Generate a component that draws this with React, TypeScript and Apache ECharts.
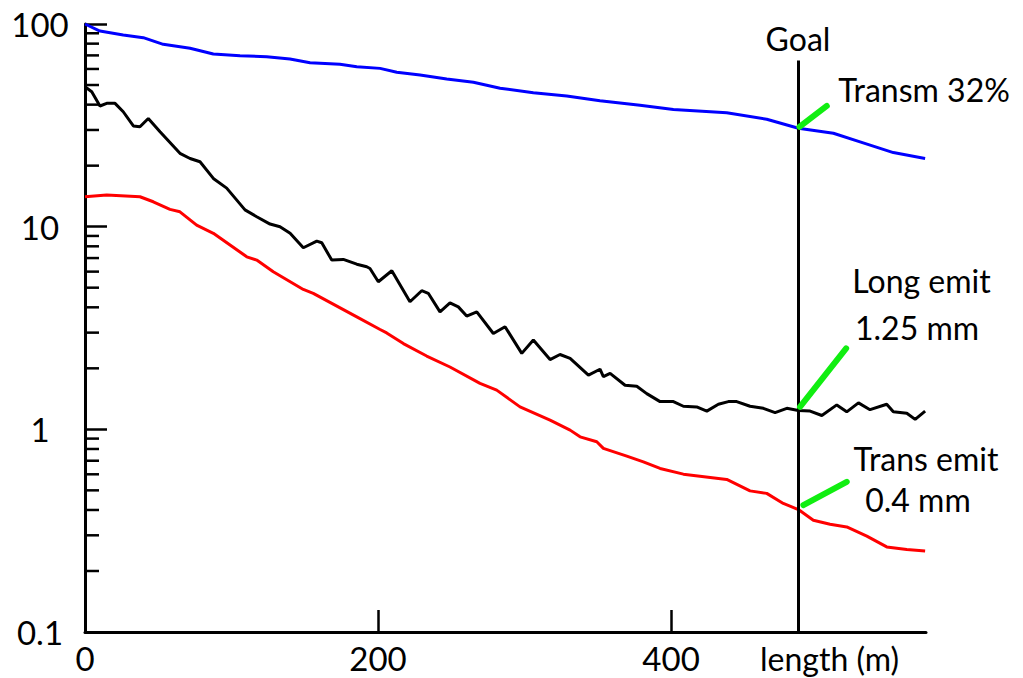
import React, { useEffect, useRef } from "react";
import * as echarts from "echarts";

// Transmission (%) vs length (m)
const transmLength = [0, 10.2, 26.1, 39.8, 53.4, 71.7, 87.6, 105.8, 124, 139.9, 153.6, 174, 185.5, 201.4, 212.8, 228.7, 246.9, 265.1, 283.3, 306, 328.8, 351.5, 378.8, 401.6, 438, 465.3, 486.9, 510.8, 529, 551.7, 573.4];
const transmPercent = [100, 92.3, 88.3, 85.6, 79.4, 75.9, 71.1, 69.7, 69.0, 67.2, 64.4, 63.3, 61.6, 60.4, 57.8, 56.0, 53.5, 51.6, 48.2, 45.8, 44.1, 41.8, 39.7, 37.9, 36.5, 33.9, 30.6, 28.9, 26.2, 23.2, 21.7];

// Longitudinal emittance vs length
const longEmitLength = [0, 4.6, 10.2, 14.8, 20.5, 26.1, 33, 37.5, 43.2, 51.2, 64.8, 71.7, 78.5, 87.6, 96.7, 109.2, 117.2, 126.3, 133.1, 140, 149, 158.2, 161.6, 168.4, 176.3, 185.5, 192.3, 194.5, 200.2, 209.4, 221.8, 229.8, 234.3, 242.3, 249.1, 254.8, 260.5, 267.4, 278.7, 286.7, 298.1, 306, 317.4, 324.2, 331.1, 343.6, 351.5, 353.8, 358.4, 368.6, 376.6, 383.4, 392.5, 401.6, 408.4, 417.5, 424.4, 432.3, 439.1, 444.8, 453.9, 463, 471, 479, 486.9, 494.9, 502.9, 513.1, 519.9, 527.9, 535.8, 547.2, 551.7, 560.9, 566.6, 573.4];
const longEmitValues = [49.0, 46.3, 39.4, 40.6, 40.6, 36.9, 31.4, 31.1, 34.2, 29.4, 23.0, 21.7, 20.9, 17.3, 15.5, 12.1, 11.2, 10.3, 9.99, 9.27, 7.87, 8.49, 8.33, 6.84, 6.89, 6.53, 6.34, 6.22, 5.35, 6.06, 4.26, 4.83, 4.69, 3.80, 4.21, 4.02, 3.62, 3.80, 2.97, 3.21, 2.37, 2.76, 2.21, 2.34, 2.24, 1.85, 1.98, 1.82, 1.89, 1.65, 1.63, 1.50, 1.37, 1.37, 1.30, 1.29, 1.23, 1.33, 1.37, 1.37, 1.30, 1.27, 1.21, 1.27, 1.24, 1.23, 1.17, 1.32, 1.22, 1.35, 1.25, 1.33, 1.22, 1.20, 1.12, 1.23];

// Transverse emittance vs length
const transEmitLength = [0, 14.8, 37.5, 46.6, 58, 64.8, 76.2, 87.6, 110.4, 117.2, 128.5, 149, 155.8, 185.5, 201.4, 205.9, 217.3, 233.2, 249.1, 269.6, 281, 296.9, 317.4, 331.1, 337.9, 349.3, 353.8, 369.8, 381.1, 392.5, 408.4, 438, 453.9, 465.3, 476.6, 486.9, 497.1, 508.5, 519.9, 533.6, 547.2, 560.9, 573.4];
const transEmitValues = [14.05, 14.32, 14.05, 13.27, 12.17, 11.84, 10.18, 9.27, 7.10, 6.84, 5.99, 4.90, 4.69, 3.59, 3.11, 2.99, 2.65, 2.30, 2.03, 1.685, 1.561, 1.291, 1.110, 0.991, 0.918, 0.868, 0.805, 0.737, 0.691, 0.641, 0.601, 0.566, 0.497, 0.483, 0.431, 0.402, 0.356, 0.340, 0.330, 0.297, 0.263, 0.255, 0.251];

// Axis ticks
const xLabelValues = [0, 200, 400];
const xTickValues = [200, 400];
const yMinorTicks = [0.2, 0.3, 0.4, 0.5, 0.6, 0.7, 0.8, 0.9, 2, 3, 4, 5, 6, 7, 8, 9, 20, 30, 40, 50, 60, 70, 80, 90];

// Goal marker and annotation pointers ([length, value] endpoints)
const goalLength = 487;
const goalTop = 66;
const pointerTransm = [[487.6, 31.1], [506.3, 39.4]];
const pointerLong = [[488, 1.29], [519.5, 2.51]];
const pointerTrans = [[490.3, 0.4225], [519.9, 0.551]];

const zip = (xs: number[], ys: number[]) => xs.map((x, i) => [x, ys[i]]);

const FONT = "Lato, 'Open Sans', sans-serif";
const GREEN = "#11ee11";

export default function App() {
  const ref = useRef<HTMLDivElement>(null);

  useEffect(() => {
    if (!ref.current) return;
    const chart = echarts.init(ref.current, null, { renderer: "svg" });

    const pointer = (p: number[][]) => [
      { coord: p[0], lineStyle: { color: GREEN, width: 6, type: "solid", cap: "round" } },
      { coord: p[1] },
    ];

    const text = (t: string, x: number, y: number) => ({
      type: "text",
      x,
      y,
      silent: true,
      style: {
        text: t,
        fill: "#000",
        fontSize: 32,
        lineHeight: 30,
        fontFamily: FONT,
        align: "center",
        verticalAlign: "middle",
      },
    });

    const option: any = {
      animation: false,
      backgroundColor: "#ffffff",
      grid: { left: 85, top: 24, right: 97, bottom: 46, containLabel: false, outerBoundsMode: "none" },
      xAxis: {
        type: "value",
        min: 0,
        max: 574,
        interval: 200,
        axisLine: { show: true, onZero: false, lineStyle: { color: "#000", width: 3 } },
        axisTick: { show: true, inside: true, length: 22, customValues: xTickValues, lineStyle: { color: "#000", width: 2.5 } },
        axisLabel: { customValues: xLabelValues, color: "#000", fontSize: 33, fontFamily: FONT, margin: 9 },
        splitLine: { show: false },
      },
      yAxis: {
        type: "log",
        logBase: 10,
        min: 0.1,
        max: 100,
        axisLine: { show: true, onZero: false, lineStyle: { color: "#000", width: 3 } },
        axisTick: { show: true, inside: true, length: 22, lineStyle: { color: "#000", width: 2.5 } },
        axisLabel: { color: "#000", fontSize: 33, fontFamily: FONT, align: "center", margin: 45 },
        splitLine: { show: false },
        minorTick: { show: false },
      },
      graphic: [
        text("Goal", 798, 38),
        text("Transm 32%", 924, 89.5),
        text("Long emit", 921.5, 280),
        text("1.25 mm", 917, 327),
        text("Trans emit", 926, 458),
        text("0.4 mm", 918, 499),
        text("length (m)", 829.5, 658),
      ],
      series: [
        {
          type: "custom",
          name: "minorTicks",
          silent: true,
          data: yMinorTicks.map((v) => [0, v]),
          renderItem: (params: any, api: any) => {
            const p = api.coord([0, api.value(1)]);
            return {
              type: "line",
              shape: { x1: p[0], y1: p[1], x2: p[0] + 14, y2: p[1] },
              style: { stroke: "#000", lineWidth: 2.5 },
            };
          },
          z: 5,
        },
        {
          type: "line",
          name: "Transmission",
          data: zip(transmLength, transmPercent),
          showSymbol: false,
          lineStyle: { color: "#0000ff", width: 3 },
          itemStyle: { color: "#0000ff" },
          z: 3,
        },
        {
          type: "line",
          name: "Long emit",
          data: zip(longEmitLength, longEmitValues),
          showSymbol: false,
          lineStyle: { color: "#000000", width: 3 },
          itemStyle: { color: "#000000" },
          z: 3,
        },
        {
          type: "line",
          name: "Trans emit",
          data: zip(transEmitLength, transEmitValues),
          showSymbol: false,
          lineStyle: { color: "#ff0000", width: 3 },
          itemStyle: { color: "#ff0000" },
          z: 3,
          markLine: {
            silent: true,
            symbol: ["none", "none"],
            label: { show: false },
            z: 6,
            data: [
              [
                { coord: [goalLength, 0.1], lineStyle: { color: "#000", width: 3, type: "solid" } },
                { coord: [goalLength, goalTop] },
              ],
              pointer(pointerTransm),
              pointer(pointerLong),
              pointer(pointerTrans),
            ],
          },
        },
      ],
    };

    chart.setOption(option);
    return () => chart.dispose();
  }, []);

  return (
    <div
      ref={ref}
      style={{ position: "fixed", left: 0, top: 0, width: 1023, height: 678, background: "#fff" }}
    />
  );
}
